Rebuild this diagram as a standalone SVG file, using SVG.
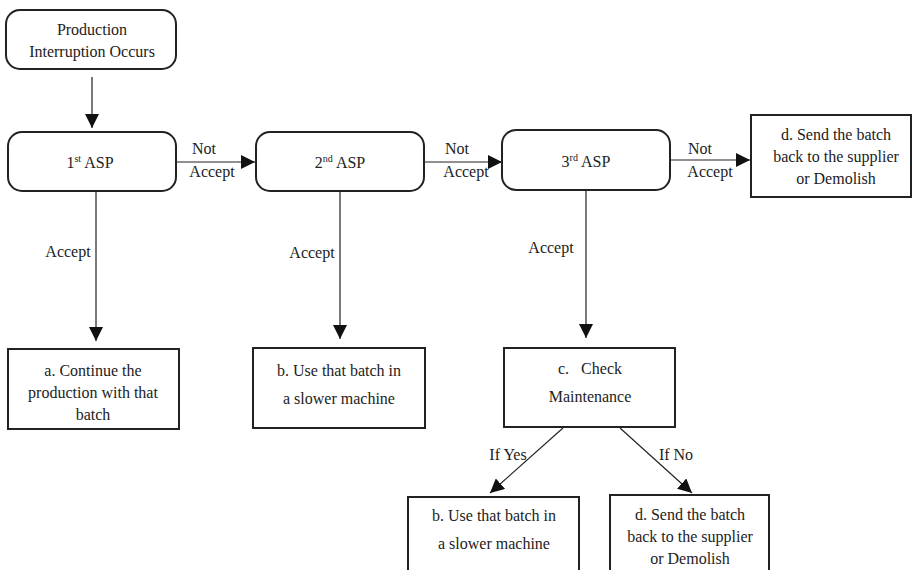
<svg xmlns="http://www.w3.org/2000/svg" width="913" height="570" viewBox="0 0 913 570">
<style>
text{font-family:'Liberation Serif','Times New Roman','DejaVu Serif',serif;font-size:16px;fill:#222;text-anchor:middle}
.box{fill:#fff;stroke:#222;stroke-width:2}
.ln{stroke:#222;stroke-width:1.2;fill:none}
.sup{font-size:10px}
</style>
<defs>
<marker id="ah" viewBox="0 0 10 10" refX="10" refY="5" markerWidth="14" markerHeight="14" markerUnits="userSpaceOnUse" orient="auto">
<path d="M0,0 L10,5 L0,10 Z" fill="#111"/>
</marker>
</defs>
<rect width="913" height="570" fill="#fff"/>
<g id="connectors">
<line class="ln" x1="92" y1="77" x2="92" y2="128" marker-end="url(#ah)"/>
<line class="ln" x1="176" y1="162" x2="255" y2="162" marker-end="url(#ah)"/>
<line class="ln" x1="424" y1="162" x2="502" y2="162" marker-end="url(#ah)"/>
<line class="ln" x1="670" y1="160" x2="750" y2="160" marker-end="url(#ah)"/>
<line class="ln" x1="96" y1="191" x2="96" y2="341" marker-end="url(#ah)"/>
<line class="ln" x1="340" y1="191" x2="340" y2="339" marker-end="url(#ah)"/>
<line class="ln" x1="586" y1="190" x2="586" y2="338" marker-end="url(#ah)"/>
<line class="ln" x1="563" y1="428" x2="490" y2="493" marker-end="url(#ah)"/>
<line class="ln" x1="620" y1="428" x2="692" y2="493" marker-end="url(#ah)"/>
<text x="204" y="154">Not</text>
<text x="212" y="177">Accept</text>
<text x="457" y="154">Not</text>
<text x="466" y="177">Accept</text>
<text x="700" y="154">Not</text>
<text x="710" y="177">Accept</text>
<text x="68" y="257">Accept</text>
<text x="312" y="258">Accept</text>
<text x="551" y="253">Accept</text>
<text x="508" y="460">If Yes</text>
<text x="676" y="460">If No</text>
</g>
<g id="start">
<rect class="box" x="6" y="10" width="170" height="59" rx="14" ry="14"/>
<text x="92" y="35">Production</text>
<text x="92" y="57">Interruption Occurs</text>
</g>
<g id="asp1">
<rect class="box" x="8" y="132" width="168" height="59" rx="14" ry="14"/>
<text x="90" y="168">1<tspan class="sup" dy="-6">st</tspan><tspan dy="6"> ASP</tspan></text>
</g>
<g id="asp2">
<rect class="box" x="256" y="132" width="168" height="59" rx="14" ry="14"/>
<text x="340" y="168">2<tspan class="sup" dy="-6">nd</tspan><tspan dy="6"> ASP</tspan></text>
</g>
<g id="asp3">
<rect class="box" x="502" y="130" width="168" height="60" rx="14" ry="14"/>
<text x="586" y="167">3<tspan class="sup" dy="-6">rd</tspan><tspan dy="6"> ASP</tspan></text>
</g>
<g id="d1">
<rect class="box" x="751" y="115" width="160" height="82"/>
<text x="836" y="140">d. Send the batch</text>
<text x="836" y="162">back to the supplier</text>
<text x="836" y="184">or Demolish</text>
</g>
<g id="a">
<rect class="box" x="8" y="349" width="171" height="80"/>
<text x="93" y="376">a. Continue the</text>
<text x="93" y="398">production with that</text>
<text x="93" y="420">batch</text>
</g>
<g id="b1">
<rect class="box" x="253" y="348" width="172" height="80"/>
<text x="339" y="376">b. Use that batch in</text>
<text x="339" y="404">a slower machine</text>
</g>
<g id="c">
<rect class="box" x="504" y="348" width="171" height="79"/>
<text x="590" y="374" xml:space="preserve">c.   Check</text>
<text x="590" y="402">Maintenance</text>
</g>
<g id="b2">
<rect class="box" x="408" y="497" width="171" height="80"/>
<text x="494" y="521">b. Use that batch in</text>
<text x="494" y="549">a slower machine</text>
</g>
<g id="d2">
<rect class="box" x="610" y="495" width="159" height="82"/>
<text x="690" y="520">d. Send the batch</text>
<text x="690" y="542">back to the supplier</text>
<text x="690" y="564">or Demolish</text>
</g>
</svg>
